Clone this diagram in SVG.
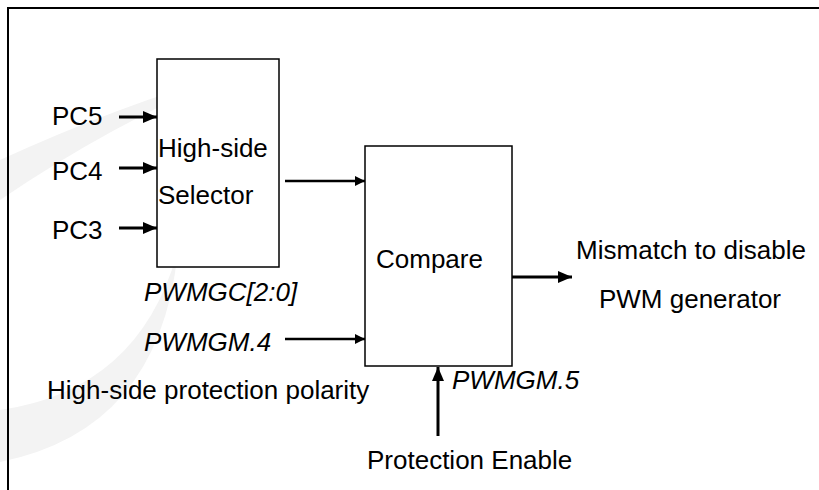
<svg xmlns="http://www.w3.org/2000/svg" width="819" height="490" viewBox="0 0 819 490">
  <defs>
    <style>
      .t { font-family: "Liberation Sans", Arial, sans-serif; font-size: 26px; fill: #000; }
      .i { font-style: italic; }
      .box { fill: #fff; stroke: #000; stroke-width: 1.5; }
      .w { fill: none; stroke: #000; stroke-width: 3; }
      .w2 { fill: none; stroke: #000; stroke-width: 2.5; }
    </style>
    <marker id="ah" markerUnits="userSpaceOnUse" markerWidth="14" markerHeight="12" refX="14" refY="6" orient="auto">
      <path d="M0,0 L14,6 L0,12 Z" fill="#000"/>
    </marker>
    <marker id="ahs" markerUnits="userSpaceOnUse" markerWidth="10" markerHeight="10" refX="10" refY="5" orient="auto">
      <path d="M0,0 L10,5 L0,10 Z" fill="#000"/>
    </marker>
  </defs>
  <rect width="819" height="490" fill="#fff"/>
  <g id="watermark" fill="#f3f3f3">
    <path d="M0,200 Q110,125 235,72 Q120,105 0,160 Z"/>
    <path d="M0,462 Q160,430 178,250 Q140,390 0,410 Z"/>
  </g>
  <path id="frame" d="M8,490 V8 H819" fill="none" stroke="#000" stroke-width="2"/>

  <g id="selector">
    <rect class="box" x="157" y="59" width="122" height="208"/>
    <text class="t" x="158" y="157">High-side</text>
    <text class="t" x="158" y="204">Selector</text>
  </g>
  <g id="compare">
    <rect class="box" x="365" y="146" width="147" height="220"/>
    <text class="t" x="376" y="268">Compare</text>
  </g>

  <g id="labels">
    <text class="t" x="52" y="125">PC5</text>
    <text class="t" x="52" y="180">PC4</text>
    <text class="t" x="52" y="239">PC3</text>
    <text class="t i" x="144" y="301">PWMGC[2:0]</text>
    <text class="t i" x="144" y="351">PWMGM.4</text>
    <text class="t" x="47" y="399">High-side protection polarity</text>
    <text class="t i" x="452" y="389">PWMGM.5</text>
    <text class="t" x="367" y="469">Protection Enable</text>
    <text class="t" x="691" y="259" text-anchor="middle">Mismatch to disable</text>
    <text class="t" x="690" y="308" text-anchor="middle">PWM generator</text>
  </g>

  <g id="connectors">
    <line class="w" x1="119" y1="117" x2="157" y2="117" marker-end="url(#ah)"/>
    <line class="w" x1="119" y1="168" x2="157" y2="168" marker-end="url(#ah)"/>
    <line class="w" x1="119" y1="228" x2="157" y2="228" marker-end="url(#ah)"/>
    <line class="w2" x1="285" y1="181" x2="365" y2="181" marker-end="url(#ahs)"/>
    <line class="w2" x1="285" y1="339" x2="365" y2="339" marker-end="url(#ahs)"/>
    <line class="w" x1="512" y1="277" x2="572" y2="277" marker-end="url(#ah)"/>
    <line class="w" x1="438" y1="436" x2="438" y2="367" marker-end="url(#ah)"/>
  </g>
</svg>
